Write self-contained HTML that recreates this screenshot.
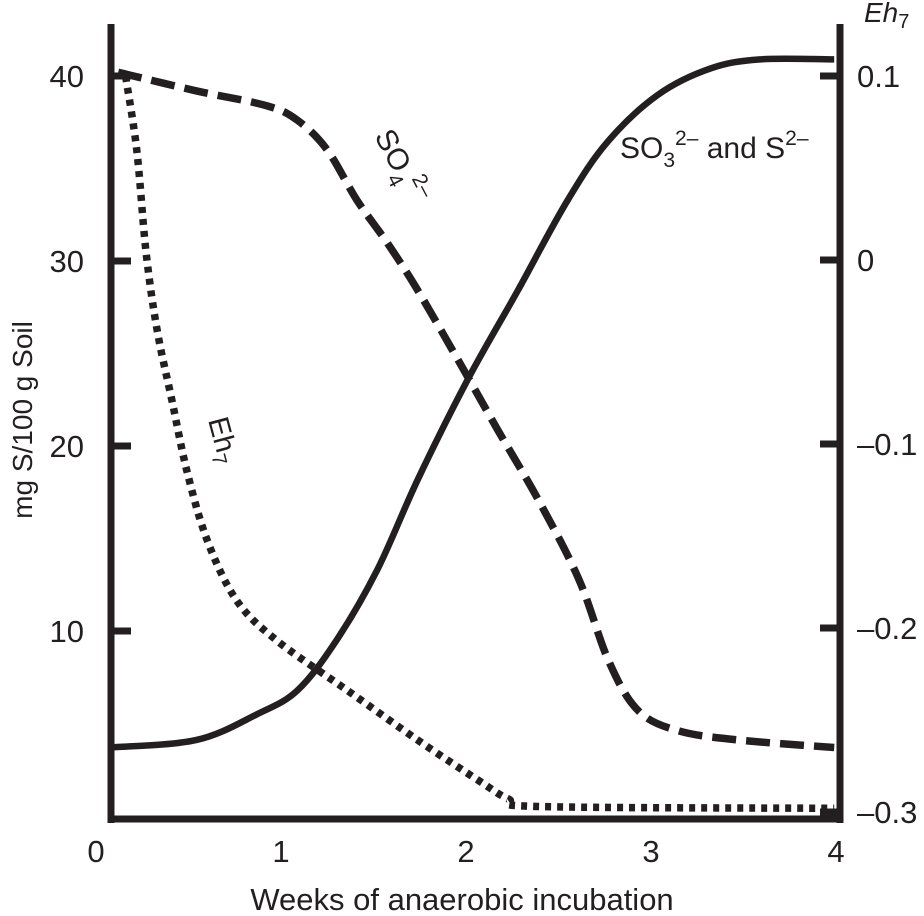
<!DOCTYPE html>
<html><head><meta charset="utf-8"><style>
body{margin:0;background:#fff}
svg{display:block;font-family:"Liberation Sans",Arial,sans-serif}
</style></head><body>
<svg id="chart" width="924" height="916" viewBox="0 0 924 916" xmlns="http://www.w3.org/2000/svg">
<g id="axes"></g>
<g id="series"></g>
<text transform="translate(32,420) rotate(-90)" text-anchor="middle" font-size="28" fill="#231f20">mg S/100 g Soil</text>
<text x="462" y="910" text-anchor="middle" font-size="31" fill="#231f20">Weeks of anaerobic incubation</text>
<text x="864" y="22" font-size="28" font-style="italic" fill="#231f20">Eh<tspan font-size="20" dy="6" font-style="normal">7</tspan></text>
<text transform="translate(374,136) rotate(62)" font-size="30" fill="#231f20">SO<tspan font-size="21" dy="9">4</tspan><tspan font-size="21" dy="-22">2–</tspan></text>
<text transform="translate(208,420) rotate(75)" font-size="29" fill="#231f20">Eh<tspan font-size="20" dy="6">7</tspan></text>
<text x="620" y="158" font-size="30" fill="#231f20">SO<tspan font-size="21" dy="9">3</tspan><tspan font-size="21" dy="-22">2–</tspan><tspan dy="13"> and S</tspan><tspan font-size="21" dy="-13">2–</tspan></text>
</svg>
<script>
const xTicks=[0,1,2,3,4];
const yTicks=[10,20,30,40];
const rTicks=[0.1,0,-0.1,-0.2,-0.3];
const rTickLabels=["0.1","0","–0.1","–0.2","–0.3"];
const solidWeeks=[0.07,0.54,0.87,1.09,1.30,1.52,1.74,2.01,2.28,2.55,2.77,3.04,3.32,3.59,3.99];
const solidVals=[3.7,4.1,5.5,6.8,9.5,13.3,18.2,23.6,28.4,33.3,36.5,39.0,40.4,40.9,40.9];
const so4Weeks=[0.12,0.54,0.92,1.09,1.25,1.41,1.58,1.74,1.96,2.17,2.39,2.61,2.77,2.93,3.15,3.48,3.99];
const so4Vals=[40.2,39.2,38.4,37.6,36.0,33.3,30.9,28.4,24.6,20.9,17.1,12.8,8.4,5.7,4.6,4.1,3.7];
const ehWeeks=[0.16,0.22,0.27,0.33,0.41,0.49,0.60,0.76,0.98,1.36,1.74,2.07,2.23,2.39,3.99];
const ehVals=[0.100,0.060,0.005,-0.038,-0.076,-0.114,-0.152,-0.185,-0.207,-0.234,-0.261,-0.283,-0.293,-0.297,-0.298];

const NS="http://www.w3.org/2000/svg";
const X=v=>96+185*v;
const Y=v=>816-18.5*v;
const R=v=>260-1840*v;
const C="#231f20";
function mk(tag,attrs,parent){const e=document.createElementNS(NS,tag);for(const k in attrs)e.setAttribute(k,attrs[k]);parent.appendChild(e);return e;}
const ax=document.getElementById('axes'), se=document.getElementById('series');
let l=mk('line',{x1:111,y1:24,x2:111,y2:823,stroke:C,'stroke-width':7},ax);


l=mk('line',{x1:840,y1:24,x2:840,y2:823,stroke:C,'stroke-width':7},ax);


l=mk('line',{x1:108,y1:819,x2:843,y2:819,stroke:C,'stroke-width':7},ax);


xTicks.forEach(t=>{const tx=mk('text',{x:X(t),y:862,'text-anchor':'middle','font-size':31,fill:C},ax);tx.textContent=t;

});
yTicks.forEach(t=>{const tk=mk('line',{x1:111,x2:131,y1:Y(t),y2:Y(t),stroke:C,'stroke-width':7},ax);


const tx=mk('text',{x:84,y:Y(t)+11,'text-anchor':'end','font-size':31,fill:C},ax);tx.textContent=t;

});
rTicks.forEach((t,i)=>{const tk=mk('line',{x1:820,x2:840,y1:R(t),y2:R(t),stroke:C,'stroke-width':7},ax);


const tx=mk('text',{x:857,y:R(t)+11,'font-size':31,fill:C},ax);tx.textContent=rTickLabels[i];

});
function smooth(ws,vs,f){
  const P=ws.map((w,i)=>[X(w),f(vs[i])]);
  let d='M'+P[0][0].toFixed(1)+','+P[0][1].toFixed(1);
  for(let i=0;i<P.length-1;i++){
    const p0=P[Math.max(0,i-1)],p1=P[i],p2=P[i+1],p3=P[Math.min(P.length-1,i+2)];
    const c1=[p1[0]+(p2[0]-p0[0])/6,p1[1]+(p2[1]-p0[1])/6];
    const c2=[p2[0]-(p3[0]-p1[0])/6,p2[1]-(p3[1]-p1[1])/6];
    d+=' C'+c1.map(v=>v.toFixed(1)).join(',')+' '+c2.map(v=>v.toFixed(1)).join(',')+' '+p2[0].toFixed(1)+','+p2[1].toFixed(1);
  }
  return d;
}
let p=mk('path',{d:smooth(solidWeeks,solidVals,Y),fill:'none',stroke:C,'stroke-width':6.5},se);


p=mk('path',{d:smooth(so4Weeks,so4Vals,Y),fill:'none',stroke:C,'stroke-width':7.5,'stroke-dasharray':'24 10'},se);


p=mk('path',{d:smooth(ehWeeks,ehVals,R),fill:'none',stroke:C,'stroke-width':7.5,'stroke-dasharray':'6 6'},se);


</script>
</body></html>
